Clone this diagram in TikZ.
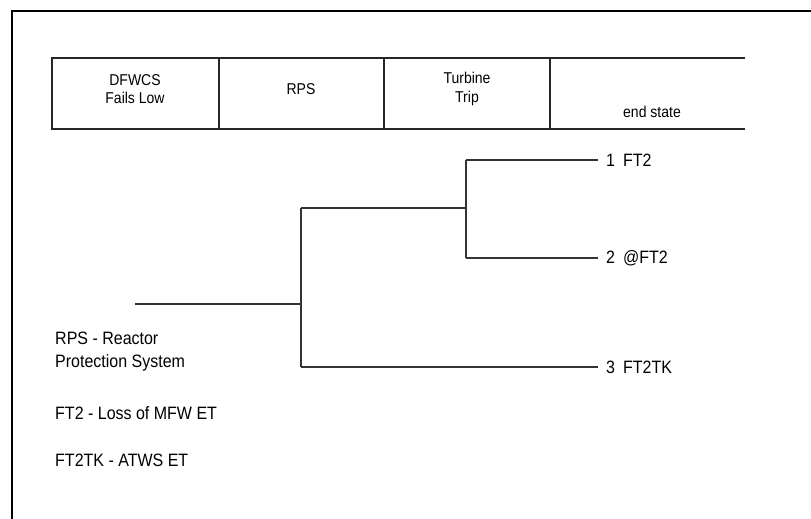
\documentclass[tikz,border=0pt]{standalone}
\usepackage{fontspec}
\setmainfont{Liberation Sans}
\begin{document}
\begin{tikzpicture}[x=1pt,y=-1pt,
  hdr/.style={font=\fontsize{14}{16.5}\selectfont, align=center, inner sep=0pt, yscale=1.12, transform shape},
  lbl/.style={font=\fontsize{16}{20.5}\selectfont, anchor=west, inner sep=0pt, yscale=1.12, transform shape},
  branch/.style={draw=black!80, line width=1.3pt},
  tbl/.style={draw=black!85, line width=1.6pt},
  framestyle/.style={draw=black, line width=2.4pt}]
\useasboundingbox (0,0) rectangle (811,519);
\draw[framestyle] (12,540) -- (12,11) -- (830,11);
% header table
\draw[tbl] (745,58) -- (52,58) -- (52,129) -- (745,129);
\draw[tbl] (219,58) -- (219,129) (384,58) -- (384,129) (550,58) -- (550,129);
\node[hdr] (h1) at (135,89) {DFWCS\\Fails Low};
\node[hdr] (h2) at (301,89) {RPS};
\node[hdr] (h3) at (467,89) {Turbine\\Trip};
\node[hdr] (h4) at (652,112) {end state};
% tree
\coordinate (i0) at (135,304);
\coordinate (b1) at (301,304);
\coordinate (b1u) at (301,208);
\coordinate (b1d) at (301,367);
\coordinate (b2) at (466,208);
\coordinate (b2u) at (466,160);
\coordinate (b2d) at (466,258);
\node[lbl] (e1) at (606,160) {1\hspace{0.5em}FT2};
\node[lbl] (e2) at (606,258) {2\hspace{0.5em}@FT2};
\node[lbl] (e3) at (606,367) {3\hspace{0.5em}FT2TK};
\draw[branch] (i0) -- (b1);
\draw[branch] (b1u) -- (b1d);
\draw[branch] (b1u) -- (b2);
\draw[branch] (b2u) -- (b2d);
\draw[branch] (b2u) -- ([xshift=-8pt]e1.west);
\draw[branch] (b2d) -- ([xshift=-8pt]e2.west);
\draw[branch] (b1d) -- ([xshift=-8pt]e3.west);
% legend
\node[lbl, align=left, anchor=north west] (l1) at (55,332) {RPS - Reactor\\Protection System};
\node[lbl] (l2) at (55,413) {FT2 - Loss of MFW ET};
\node[lbl] (l3) at (55,460) {FT2TK - ATWS ET};
\end{tikzpicture}
\end{document}
